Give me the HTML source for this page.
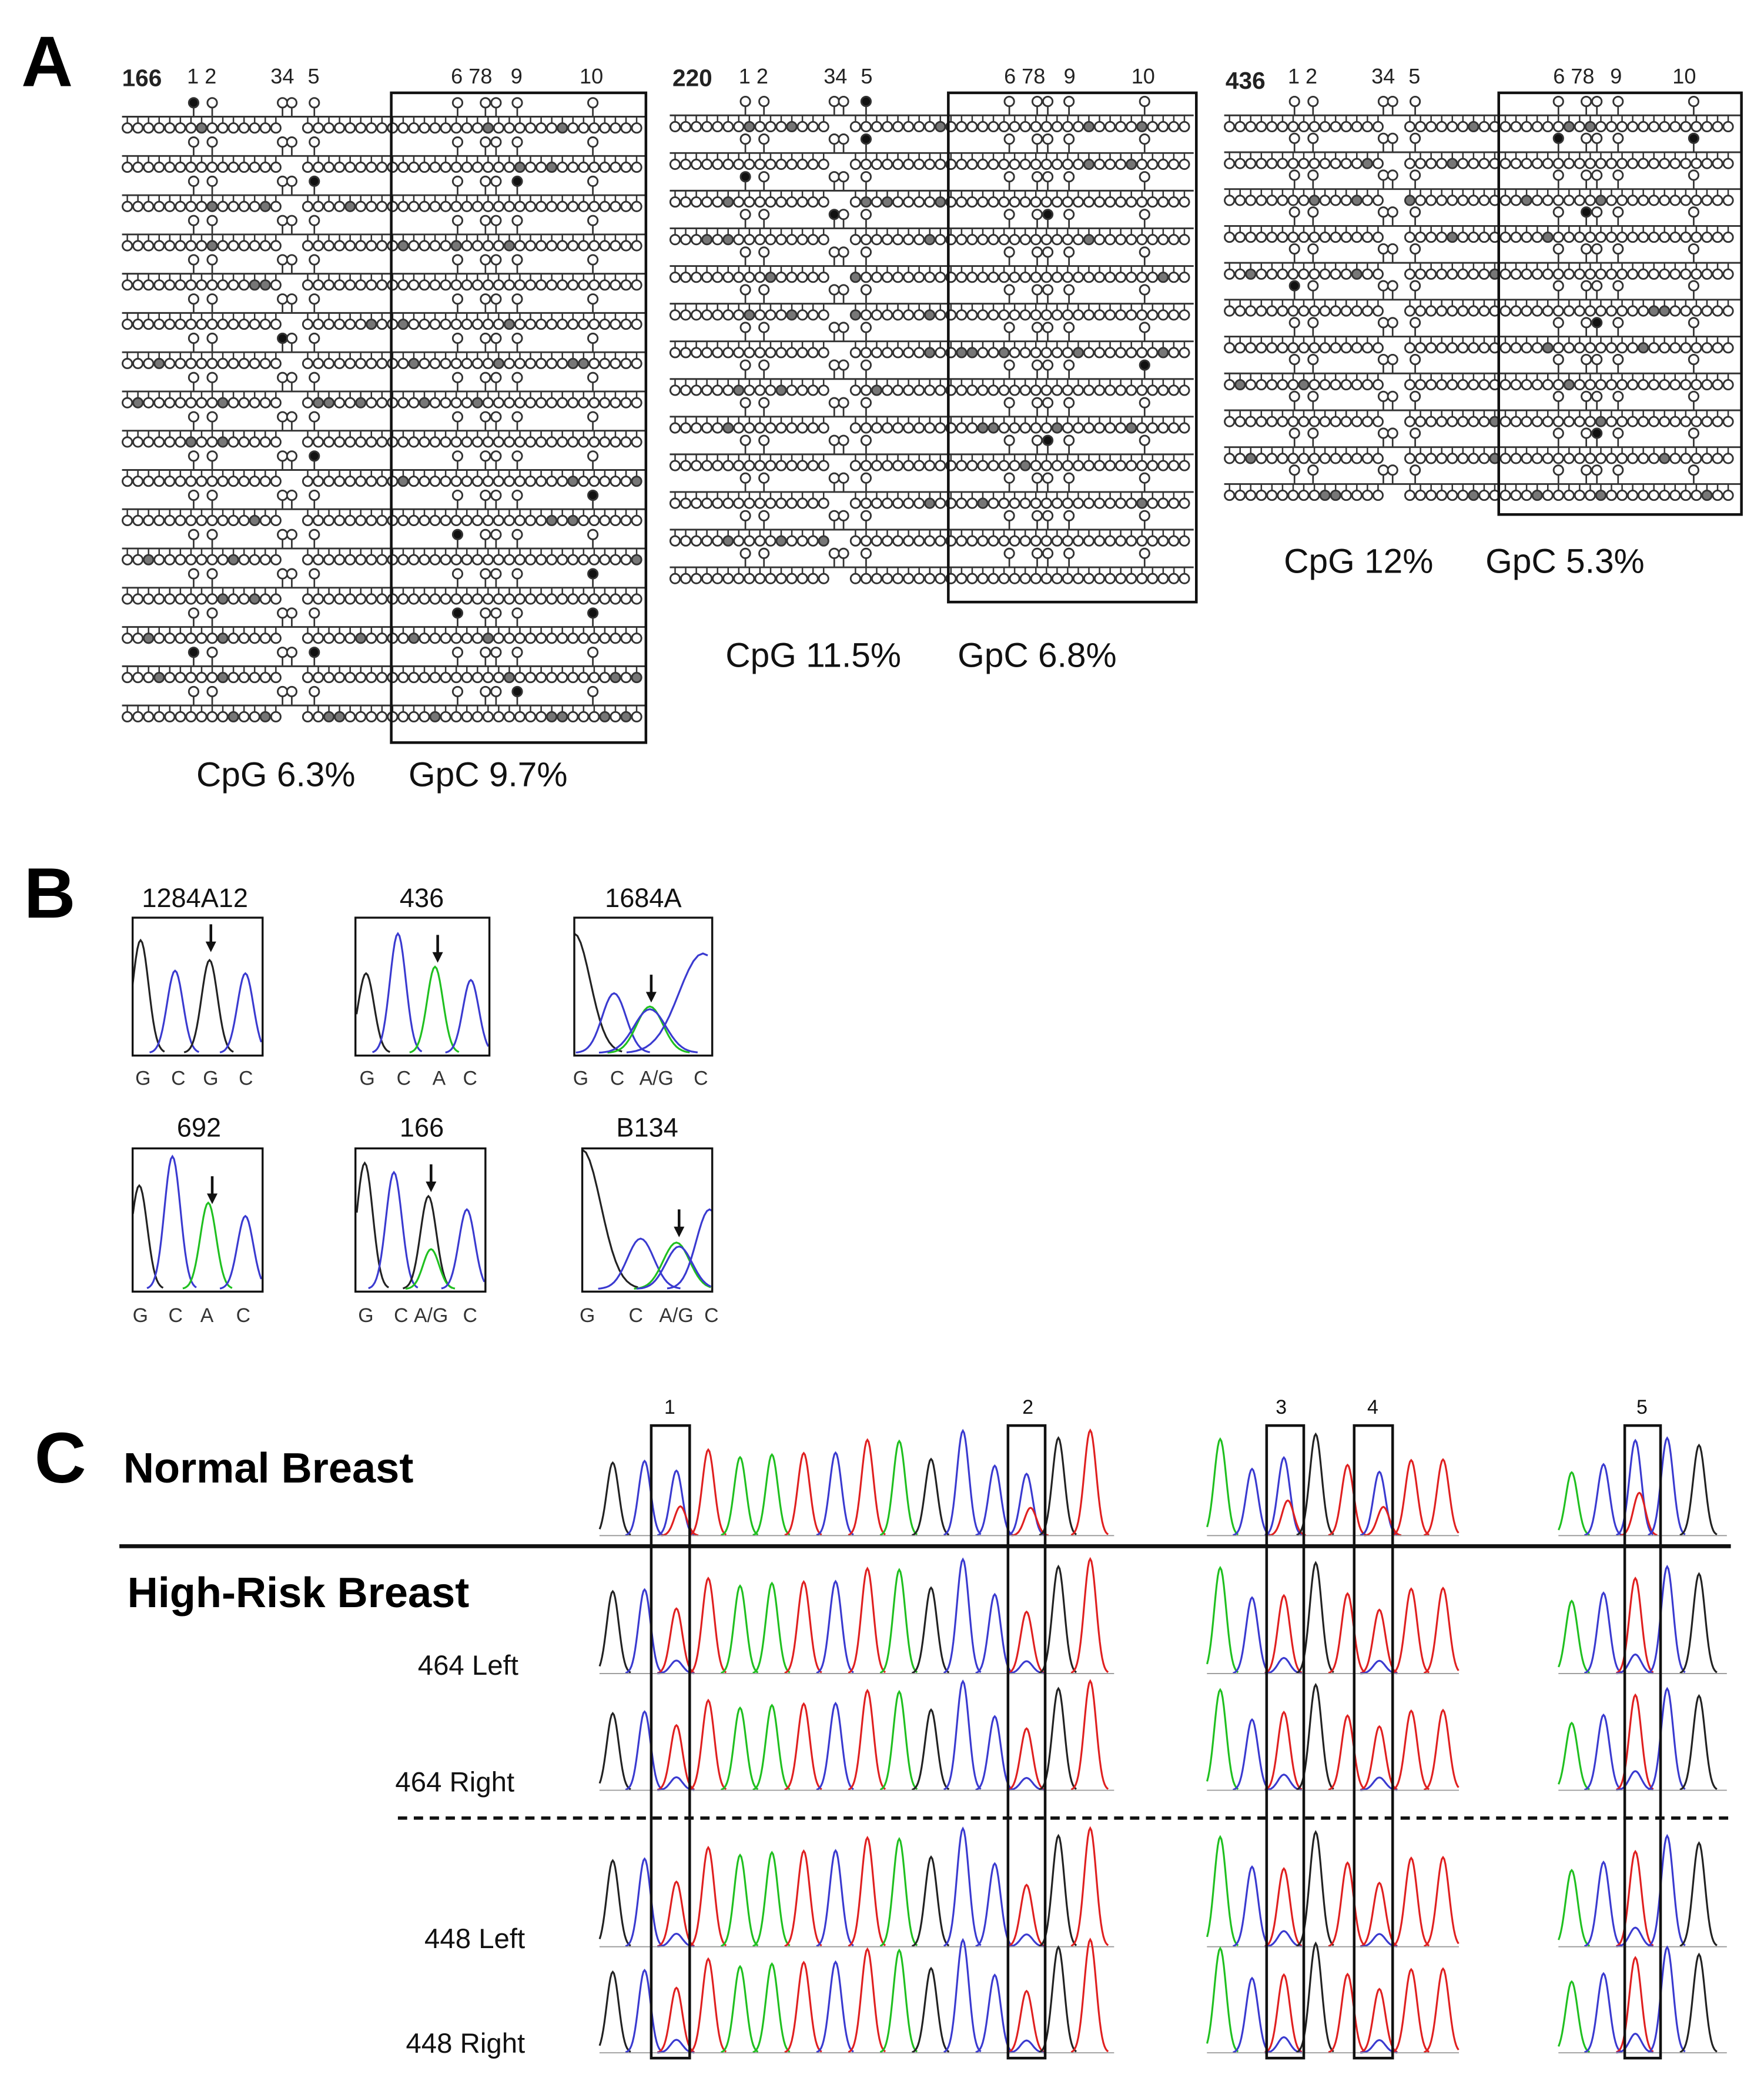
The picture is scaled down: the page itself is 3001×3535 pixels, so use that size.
<!DOCTYPE html>
<html><head><meta charset="utf-8"><style>
html,body{margin:0;padding:0;background:#fff}
svg{display:block}
text{font-family:"Liberation Sans",Arial,sans-serif}
</style></head><body>
<svg id="s" width="3001" height="3535" viewBox="0 0 1330 1567" preserveAspectRatio="none" xmlns="http://www.w3.org/2000/svg">
<rect width="1330" height="1567" fill="#fff"/>
<g id="g"></g>
<text x="16" y="65" font-size="54" font-weight="bold">A</text>
<text x="18" y="692" font-size="54" font-weight="bold">B</text>
<text x="26" y="1118" font-size="54" font-weight="bold">C</text>
<g font-size="16" fill="#222">
<text x="92" y="65" font-weight="bold" font-size="18">166</text>
<text x="141" y="63">1 2</text><text x="204" y="63">34</text><text x="232" y="63">5</text>
<text x="340" y="63">6 78</text><text x="385" y="63">9</text><text x="437" y="63">10</text>
<text x="507" y="65" font-weight="bold" font-size="18">220</text>
<text x="557" y="63">1 2</text><text x="621" y="63">34</text><text x="649" y="63">5</text>
<text x="757" y="63">6 78</text><text x="802" y="63">9</text><text x="853" y="63">10</text>
<text x="924" y="67" font-weight="bold" font-size="18">436</text>
<text x="971" y="63">1 2</text><text x="1034" y="63">34</text><text x="1062" y="63">5</text>
<text x="1171" y="63">6 78</text><text x="1214" y="63">9</text><text x="1261" y="63">10</text>
</g>
<g font-size="26" fill="#111">
<text x="148" y="593">CpG 6.3%</text><text x="308" y="593">GpC 9.7%</text>
<text x="547" y="503">CpG 11.5%</text><text x="722" y="503">GpC 6.8%</text>
<text x="968" y="432">CpG 12%</text><text x="1120" y="432">GpC 5.3%</text>
</g>
<g fill="none" stroke="#111" stroke-width="2">
<rect x="295" y="70" width="192" height="490"/>
<rect x="715" y="70" width="187" height="384"/>
<rect x="1130" y="70" width="183" height="318"/>
</g>
<g font-size="20" fill="#111" text-anchor="middle">
<text x="147" y="684">1284A12</text><text x="318" y="684">436</text><text x="485" y="684">1684A</text>
<text x="150" y="857">692</text><text x="318" y="857">166</text><text x="488" y="857">B134</text>
</g>
<g font-size="15" fill="#333">
<text x="102" y="818">G</text><text x="129" y="818">C</text><text x="153" y="818">G</text><text x="180" y="818">C</text>
<text x="271" y="818">G</text><text x="299" y="818">C</text><text x="326" y="818">A</text><text x="349" y="818">C</text>
<text x="432" y="818">G</text><text x="460" y="818">C</text><text x="482" y="818">A/G</text><text x="523" y="818">C</text>
<text x="100" y="997">G</text><text x="127" y="997">C</text><text x="151" y="997">A</text><text x="178" y="997">C</text>
<text x="270" y="997">G</text><text x="297" y="997">C</text><text x="312" y="997">A/G</text><text x="349" y="997">C</text>
<text x="437" y="997">G</text><text x="474" y="997">C</text><text x="497" y="997">A/G</text><text x="531" y="997">C</text>
</g>
<g fill="none" stroke="#111" stroke-width="1.5">
<rect x="100" y="692" width="98" height="104"/><rect x="268" y="692" width="101" height="104"/><rect x="433" y="692" width="104" height="104"/>
<rect x="100" y="866" width="98" height="108"/><rect x="268" y="866" width="98" height="108"/><rect x="439" y="866" width="98" height="108"/>
</g>
<text x="93" y="1118" font-size="32" font-weight="bold">Normal Breast</text>
<text x="96" y="1212" font-size="32" font-weight="bold">High-Risk Breast</text>
<g font-size="21" fill="#111">
<text x="315" y="1263">464 Left</text><text x="298" y="1351">464 Right</text>
<text x="320" y="1469">448 Left</text><text x="306" y="1548">448 Right</text>
</g>
<line x1="90" y1="1166" x2="1305" y2="1166" stroke="#111" stroke-width="3"/>
<line x1="300" y1="1371" x2="1305" y2="1371" stroke="#111" stroke-width="2.5" stroke-dasharray="7,5"/>
<g font-size="15" fill="#111" text-anchor="middle">
<text x="505" y="1066">1</text><text x="775" y="1066">2</text><text x="966" y="1066">3</text><text x="1035" y="1066">4</text><text x="1238" y="1066">5</text>
</g>
<g id="boxes" fill="none" stroke="#111" stroke-width="2">
<rect x="491" y="1075" width="29" height="477"/><rect x="760" y="1075" width="28" height="477"/>
<rect x="955" y="1075" width="28" height="477"/><rect x="1021" y="1075" width="29" height="477"/>
<rect x="1225" y="1075" width="27" height="477"/>
</g>
</svg>
<script>
(function(){
var out=[];var seed=7;function rnd(){seed=(seed*16807)%2147483647;return (seed-1)/2147483646;}
function f(n){return n.toFixed(1);}
function block(x0,x1,sites,nrows,y0,pitch){
  var bottoms=[];for(var p=x0+4;p<x1-2;p+=8.0){var r=p-x0;if((r>60&&r<66)||(r>118&&r<138))continue;bottoms.push(p);}
  for(var i=0;i<nrows;i++){var y=y0+i*pitch;
    out.push('<line x1="'+x0+'" y1="'+f(y)+'" x2="'+x1+'" y2="'+f(y)+'" stroke="#333" stroke-width="1.3"/>');
    sites.forEach(function(s){var fill=rnd()<0.06?'#111':'#fff';
      out.push('<line x1="'+s+'" y1="'+f(y-7)+'" x2="'+s+'" y2="'+f(y)+'" stroke="#333" stroke-width="1.2"/><circle cx="'+s+'" cy="'+f(y-10.5)+'" r="3.6" fill="'+fill+'" stroke="#333" stroke-width="1.3"/>');});
    bottoms.forEach(function(p){var fill=rnd()<0.07?'#777':'#fff';
      out.push('<line x1="'+f(p)+'" y1="'+f(y)+'" x2="'+f(p)+'" y2="'+f(y+5)+'" stroke="#333" stroke-width="1.1"/><circle cx="'+f(p)+'" cy="'+f(y+8.5)+'" r="3.6" fill="'+fill+'" stroke="#333" stroke-width="1.3"/>');});
  }
}
var s166=[146,160,213,220,237,345,366,374,390,447];
block(92,487,s166,16,88,29.6);
block(505,900,s166.map(function(v){return v+416;}),13,87,28.4);
block(923,1313,s166.map(function(v){return v+830;}),11,87,27.8);
var col={k:'#222',b:'#3a3ad0',g:'#20c020',r:'#e02020'};
function peaks(x,base,w,pk){
  pk.forEach(function(q){var d='';for(var t=-3.2;t<=3.2;t+=0.2){var px=q[0]+t*q[3];if(px<x||px>x+w)continue;var py=base-q[1]*Math.exp(-t*t/2);d+=(d?'L':'M')+f(px)+' '+f(py);}
    out.push('<path d="'+d+'" fill="none" stroke="'+col[q[2]]+'" stroke-width="1.4"/>');});
}
function arrow(x,y){out.push('<line x1="'+x+'" y1="'+y+'" x2="'+x+'" y2="'+(y+18)+'" stroke="#111" stroke-width="2"/><path d="M'+(x-4)+' '+(y+13)+'L'+x+' '+(y+21)+'L'+(x+4)+' '+(y+13)+'Z" fill="#111"/>');}
peaks(100,794,98,[[106,85,'k',6],[132,62,'b',6],[158,70,'k',6],[185,60,'b',6]]);arrow(159,697);
peaks(268,794,101,[[276,60,'k',6],[300,90,'b',6],[328,65,'g',6],[355,55,'b',6]]);arrow(330,705);
peaks(433,794,104,[[433,90,'k',12],[463,45,'b',9],[490,35,'g',10],[490,33,'b',12],[530,75,'b',18]]);arrow(491,735);
peaks(100,972,98,[[105,78,'k',6],[130,100,'b',6],[157,65,'g',6],[185,55,'b',6]]);arrow(160,887);
peaks(268,972,98,[[275,95,'k',6],[297,88,'b',6],[323,70,'k',6],[325,30,'g',6],[352,60,'b',6]]);arrow(325,878);
peaks(439,972,98,[[439,105,'k',14],[483,38,'b',10],[510,35,'g',10],[512,32,'b',10],[535,60,'b',10]]);arrow(512,912);
var segs=[[452,840],[910,1100],[1175,1302]];
var bx=[505,775,969,1035,1238];
var rows=[1158,1262,1350,1468,1548];
var cs=['k','b','g','r'];
rows.forEach(function(base,ri){seed=101;
  segs.forEach(function(sg){for(var p=sg[0]+10;p<sg[1];p+=24){var c=cs[Math.floor(rnd()*4)];var h=45+rnd()*35;var inb=bx.some(function(b){return Math.abs(b-p)<14;});
    var sd=4.5;var pk=[[p,h+(ri*7%11),c,sd]];
    if(inb){pk=ri==0?[[p,h,'b',sd],[p+3,h*0.45,'r',sd]]:[[p,h,'r',sd],[p,h*0.2,'b',sd]];}
    peaks(sg[0],base,sg[1]-sg[0],pk);}
    out.push('<line x1="'+sg[0]+'" y1="'+base+'" x2="'+sg[1]+'" y2="'+base+'" stroke="#999" stroke-width="0.8"/>');});
});
document.getElementById('g').innerHTML=out.join('');
})();
</script>
</body></html>
